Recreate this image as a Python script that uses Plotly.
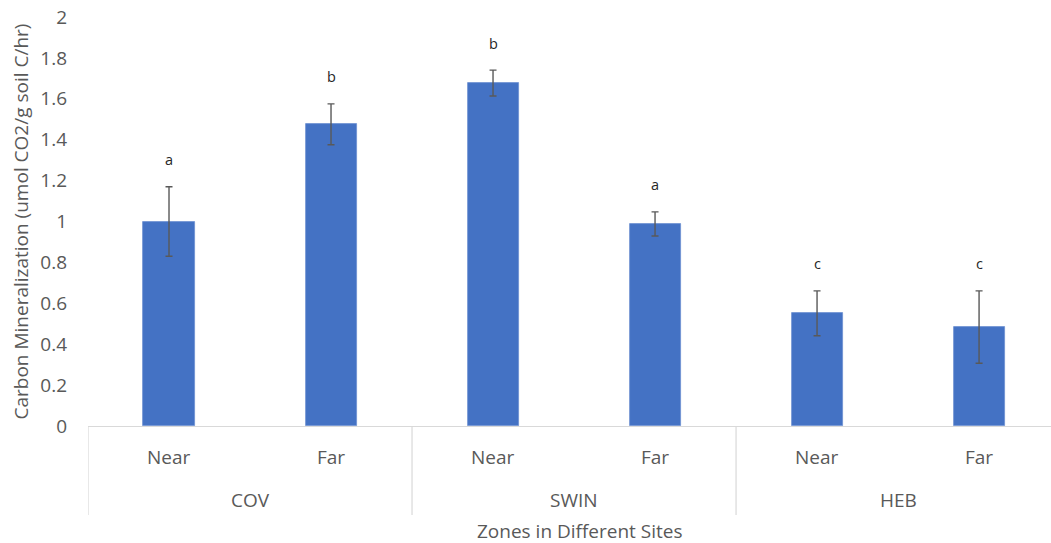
import plotly.graph_objects as go

# Carbon mineralization by site and distance zone
sites = ["COV", "SWIN", "HEB"]
zones = ["Near", "Far"]
means = [1.00, 1.475, 1.677, 0.988, 0.551, 0.484]
errors = [0.17, 0.10, 0.063, 0.059, 0.11, 0.177]
letters = ["a", "b", "b", "a", "c", "c"]
y_ticks = [0, 0.2, 0.4, 0.6, 0.8, 1, 1.2, 1.4, 1.6, 1.8, 2]

FONT = "Open Sans"
TEXT_GRAY = "#595959"
LINE_GRAY = "#d9d9d9"
LABEL_SIZE = 19

n = len(means)
xs = list(range(n))
zone_labels = [zones[i % len(zones)] for i in range(n)]

fig = go.Figure()
fig.add_trace(go.Bar(
    x=xs, y=means, width=0.315,
    marker=dict(color="#4472C4", line=dict(color="#6d8fd0", width=0.8)),
    error_y=dict(type="data", array=errors, visible=True,
                 color="#595959", thickness=1.4, width=3.5),
    showlegend=False, hoverinfo="skip",
))

# significance letters above the error bars
for x, m, e, t in zip(xs, means, errors, letters):
    fig.add_annotation(x=x, y=m + e, yshift=27, yanchor="middle", text=t,
                       showarrow=False,
                       font=dict(family=FONT, size=14.5, color="#262626"))

# two-level category axis drawn below the plot
for x, z in zip(xs, zone_labels):
    fig.add_annotation(x=x, y=0, yref="y", yshift=-31, yanchor="middle",
                       text=z, showarrow=False,
                       font=dict(family=FONT, size=LABEL_SIZE, color=TEXT_GRAY))
group = len(zones)
for gi, s in enumerate(sites):
    cx = gi * group + (group - 1) / 2
    fig.add_annotation(x=cx, y=0, yref="y", yshift=-74, yanchor="middle",
                       text=s, showarrow=False,
                       font=dict(family=FONT, size=LABEL_SIZE, color=TEXT_GRAY))
    # separator lines between site groups
    fig.add_shape(type="line", xref="x", yref="paper",
                  x0=gi * group - 0.5, x1=gi * group - 0.5, y0=0, y1=-89 / 409,
                  line=dict(color=LINE_GRAY, width=1.2))

fig.add_annotation(text="Zones in Different Sites", xref="paper", yref="paper",
                   x=(580 - 88) / 963, y=0, yshift=-105,
                   showarrow=False, xanchor="center", yanchor="middle",
                   font=dict(family=FONT, size=LABEL_SIZE, color=TEXT_GRAY))
fig.add_annotation(text="Carbon Mineralization (umol CO2/g soil C/hr)",
                   xref="paper", yref="paper", x=0, y=0.5, xshift=-68,
                   xanchor="center", yanchor="middle",
                   textangle=-90, showarrow=False,
                   font=dict(family=FONT, size=LABEL_SIZE, color=TEXT_GRAY))

fig.update_layout(
    width=1051, height=543,
    margin=dict(l=88, r=0, t=17, b=117),
    plot_bgcolor="white", paper_bgcolor="white",
    bargap=0,
    xaxis=dict(range=[-0.5, 5.444], showticklabels=False, showgrid=False,
               zeroline=False, showline=False, ticks=""),
    yaxis=dict(range=[0, 2], tickvals=y_ticks, showgrid=False, zeroline=True,
               zerolinecolor=LINE_GRAY, zerolinewidth=1.2, showline=False,
               ticks="", ticklabelstandoff=20,
               tickfont=dict(family=FONT, size=LABEL_SIZE, color=TEXT_GRAY)),
)

fig.write_html("out.html")
